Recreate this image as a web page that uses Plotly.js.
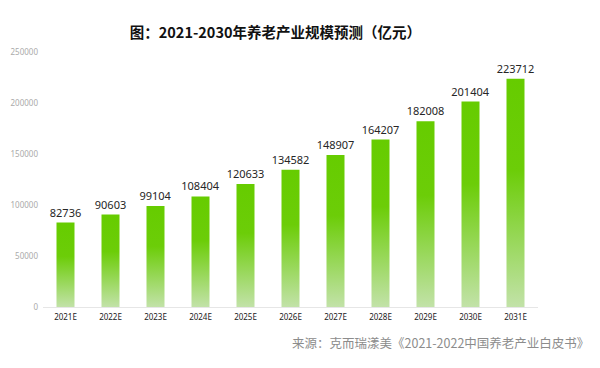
<!DOCTYPE html>
<html><head><meta charset="utf-8">
<script src="https://cdn.plot.ly/plotly-3.0.1.min.js"></script>
<style>html,body{margin:0;padding:0;background:#fff}#chart{width:600px;height:368px}</style>
</head><body><div id="chart"></div>
<script>
const categories = ["2021E","2022E","2023E","2024E","2025E","2026E","2027E","2028E","2029E","2030E","2031E"];
const values = [82736, 90603, 99104, 108404, 120633, 134582, 148907, 164207, 182008, 201404, 223712];
const yTicks = [0, 50000, 100000, 150000, 200000, 250000];

const trace = {
  type: 'bar', x: categories, y: values,
  text: values.map(String), textposition: 'outside', cliponaxis: false, constraintext: 'none',
  textfont: {family: 'Noto Sans, DejaVu Sans, sans-serif', size: 11, color: '#262626'},
  marker: {color: '#66cc00'}, width: 0.4, hoverinfo: 'none'
};
const layout = {
  width: 600, height: 368, paper_bgcolor: '#fff', plot_bgcolor: '#fff',
  margin: {l: 43, r: 62, t: 52, b: 61}, showlegend: false,
  title: {text: '<b>图：2021-2030年养老产业规模预测（亿元）</b>', x: 0.459, xanchor: 'center', y: 0.91, yanchor: 'middle',
    font: {family: 'Noto Sans CJK SC, sans-serif', size: 14.5, color: '#111'}},
  xaxis: {showline: true, linecolor: '#e6e6e6', linewidth: 1, ticks: '', showgrid: false, ticklabelstandoff: 2,
    tickfont: {family: 'Noto Sans, DejaVu Sans, sans-serif', size: 8, color: '#222'}},
  yaxis: {range: [0, 250000], tickvals: yTicks, ticktext: yTicks.map(String), showgrid: false, zeroline: false,
    showline: false, ticks: '', ticklabelstandoff: 4,
    tickfont: {family: 'Noto Sans, DejaVu Sans, sans-serif', size: 8, color: '#aaa'}},
  annotations: [{text: '来源：克而瑞漾美《2021-2022中国养老产业白皮书》', xref: 'paper', yref: 'paper',
    x: 1.107, y: -0.14, xanchor: 'right', yanchor: 'middle', showarrow: false,
    font: {family: 'Noto Sans CJK SC, sans-serif', size: 12.5, color: '#8c8c8c'}}]
};
Plotly.newPlot('chart', [trace], layout, {displayModeBar: false, staticPlot: true}).then(gd => {
  const svg = gd.querySelector('svg.main-svg');
  const ns = 'http://www.w3.org/2000/svg';
  let defs = svg.querySelector('defs');
  if (!defs) { defs = document.createElementNS(ns, 'defs'); svg.insertBefore(defs, svg.firstChild); }
  const g = document.createElementNS(ns, 'linearGradient');
  g.setAttribute('id', 'barGrad'); g.setAttribute('x1', '0'); g.setAttribute('y1', '0'); g.setAttribute('x2', '0'); g.setAttribute('y2', '1');
  [['0', '#66cc00'], ['0.4', '#6ccd08'], ['1', '#c2e2a8']].forEach(([o, c]) => {
    const s = document.createElementNS(ns, 'stop'); s.setAttribute('offset', o); s.setAttribute('stop-color', c); g.appendChild(s);
  });
  defs.appendChild(g);
  gd.querySelectorAll('.barlayer .point path').forEach(p => { p.style.fill = 'url(#barGrad)'; });
});
</script></body></html>
